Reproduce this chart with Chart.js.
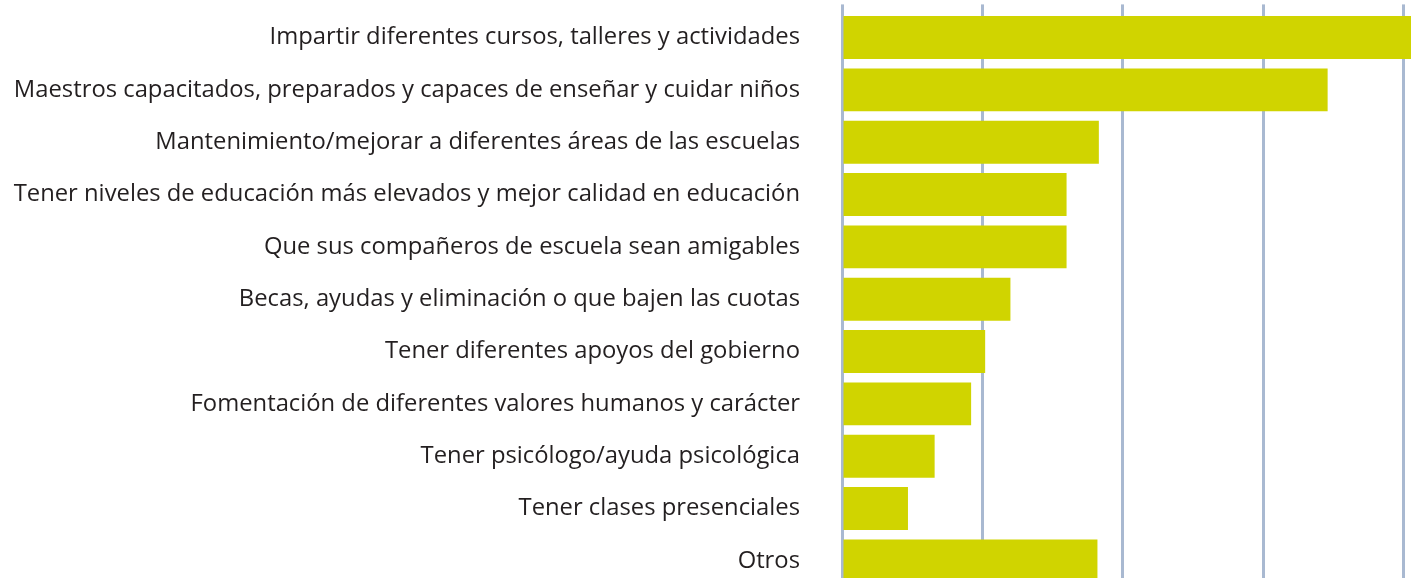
<!DOCTYPE html>
<html>
<head>
<meta charset="utf-8">
<script src="https://cdn.jsdelivr.net/npm/chart.js@4"></script>
<style>
    html, body { margin: 0; padding: 0; background: #ffffff; overflow: hidden; }
    #wrap { width: 1411px; height: 587px; position: relative; }
</style>
</head>
<body>
<div id="wrap"><canvas id="barChart"></canvas></div>
<script>
// Catégories (de haut en bas)
const categorias = [
    'Impartir diferentes cursos, talleres y actividades',
    'Maestros capacitados, preparados y capaces de enseñar y cuidar niños',
    'Mantenimiento/mejorar a diferentes áreas de las escuelas',
    'Tener niveles de educación más elevados y mejor calidad en educación',
    'Que sus compañeros de escuela sean amigables',
    'Becas, ayudas y eliminación o que bajen las cuotas',
    'Tener diferentes apoyos del gobierno',
    'Fomentación de diferentes valores humanos y carácter',
    'Tener psicólogo/ayuda psicológica',
    'Tener clases presenciales',
    'Otros'
];

// Valeurs estimées (%)
const valores = [21, 17.3, 9.15, 8.0, 8.0, 6.0, 5.1, 4.6, 3.3, 2.35, 9.1];

// Graduations de l'axe
const ticksX = [0, 5, 10, 15, 20];

// Pas de marge automatique autour des axes
function sansMarge(scale) {
    scale.paddingTop = 0;
    scale.paddingBottom = 0;
    scale.paddingLeft = 0;
    scale.paddingRight = 0;
}

function createChart() {
    const ctx = document.getElementById('barChart').getContext('2d');
    new Chart(ctx, {
        type: 'bar',
        data: {
            labels: categorias,
            datasets: [{
                data: valores,
                backgroundColor: '#d0d400',
                borderWidth: 0,
                barPercentage: 0.82,
                categoryPercentage: 1
            }]
        },
        options: {
            indexAxis: 'y',
            responsive: true,
            maintainAspectRatio: false,
            animation: false,
            layout: { padding: { top: 4.4, left: 0, right: 0, bottom: 0 } },
            plugins: {
                legend: { display: false },
                tooltip: { enabled: false }
            },
            scales: {
                x: {
                    position: 'top',
                    min: 0,
                    max: 20.27,
                    afterBuildTicks: (scale) => {
                        scale.ticks = ticksX.map(v => ({ value: v }));
                    },
                    afterFit: sansMarge,
                    ticks: { display: false },
                    grid: {
                        color: '#a9b9d1',
                        lineWidth: 3,
                        drawTicks: true,
                        tickLength: 7
                    },
                    border: { display: false }
                },
                y: {
                    afterFit: (scale) => {
                        sansMarge(scale);
                        scale.width = 842;
                    },
                    grid: { display: false, drawTicks: false },
                    border: { display: false },
                    ticks: {
                        padding: 42,
                        color: '#231f20',
                        font: { family: 'Open Sans', size: 23.8 }
                    }
                }
            }
        }
    });
}

document.addEventListener('DOMContentLoaded', createChart);
</script>
</body>
</html>
